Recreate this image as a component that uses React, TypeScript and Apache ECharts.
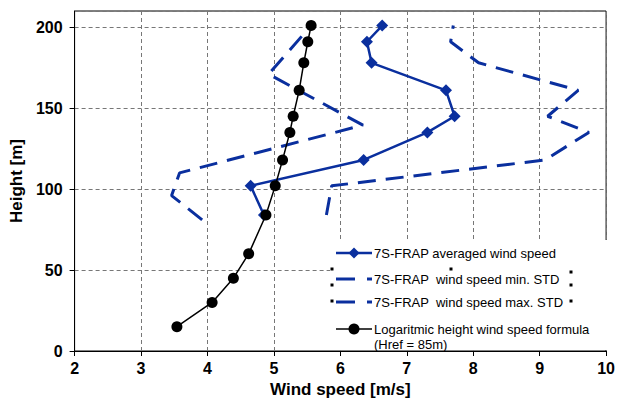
import React, { useEffect, useRef } from "react";
import * as echarts from "echarts";

// Logarithmic profile (black)
const logHeights = [15, 30, 45, 60, 84, 102, 118, 135, 145, 161, 178, 191, 201];
const logWind = [3.54, 4.07, 4.39, 4.62, 4.88, 5.02, 5.13, 5.24, 5.29, 5.38, 5.45, 5.51, 5.56];

// 7S-FRAP averaged
const avgHeights = [84, 102, 118, 135, 145, 161, 178, 191, 201];
const avgWind = [4.85, 4.65, 6.35, 7.31, 7.72, 7.59, 6.47, 6.4, 6.63];

// max STD
const maxHeights = [84, 102, 118, 135, 145, 161, 178, 191, 201];
const maxWind = [5.79, 5.87, 9.08, 9.74, 9.12, 9.58, 8.08, 7.66, 7.7];

// min STD
const minHeights = [81, 96, 110, 139.5, 171, 201];
const minWind = [3.92, 3.46, 3.58, 6.34, 4.92, 5.56];

const xTicks = { min: 2, max: 10, interval: 1 };
const yTicks = { min: 0, max: 210, interval: 50 };

const legendNames = [
  "7S-FRAP averaged wind speed",
  "7S-FRAP  wind speed min. STD",
  "7S-FRAP  wind speed max. STD",
  "Logaritmic height wind speed formula",
  "(Href = 85m)",
];

const BLUE = "#0a2f9e";
const FONT = "'Liberation Sans', Arial, sans-serif";

const pairs = (xs: number[], ys: number[]) => xs.map((x, i) => [x, ys[i]]);

export default function App() {
  const ref = useRef<HTMLDivElement>(null);
  useEffect(() => {
    if (!ref.current) return;
    const chart = echarts.init(ref.current, null, { renderer: "svg" });
    const handle = (x: number, y: number) => ({
      type: "rect",
      shape: { x: x - 1.5, y: y - 1.5, width: 3, height: 3 },
      style: { fill: "#000" },
      z: 102,
    });
    const txt = (x: number, y: number, t: string) => ({
      type: "text",
      x,
      y,
      style: { text: t, fill: "#000", font: `13px ${FONT}`, textVerticalAlign: "middle" },
      z: 102,
    });
    chart.setOption({
      animation: false,
      backgroundColor: "#fff",
      grid: {
        left: 68,
        right: 8,
        top: 11,
        bottom: 52,
        show: true,
        borderColor: "#000",
        borderWidth: 1,
      },
      xAxis: {
        type: "value",
        min: xTicks.min,
        max: xTicks.max,
        interval: xTicks.interval,
        name: "Wind speed [m/s]",
        nameLocation: "middle",
        nameGap: 30,
        nameTextStyle: { fontFamily: FONT, fontSize: 17, fontWeight: "bold", color: "#000" },
        axisLine: { show: true, lineStyle: { color: "#000", width: 1 } },
        axisTick: { show: true, length: 5, inside: false, lineStyle: { color: "#000" } },
        axisLabel: { fontFamily: FONT, fontSize: 16, fontWeight: "bold", color: "#000", margin: 9 },
        splitLine: { show: true, lineStyle: { color: "#777", width: 1, type: [4, 3] } },
      },
      yAxis: {
        type: "value",
        min: yTicks.min,
        max: yTicks.max,
        interval: yTicks.interval,
        name: "Height [m]",
        nameLocation: "middle",
        nameGap: 42,
        nameTextStyle: { fontFamily: FONT, fontSize: 17, fontWeight: "bold", color: "#000" },
        axisLine: { show: true, lineStyle: { color: "#000", width: 1 } },
        axisTick: { show: true, length: 5, inside: false, lineStyle: { color: "#000" } },
        axisLabel: {
          fontFamily: FONT,
          fontSize: 16,
          fontWeight: "bold",
          color: "#000",
          margin: 12,
          showMaxLabel: false,
        },
        splitLine: { show: true, lineStyle: { color: "#777", width: 1, type: [4, 3] } },
      },
      series: [
        {
          name: legendNames[2],
          type: "line",
          data: pairs(maxWind, maxHeights),
          symbol: "none",
          lineStyle: { color: BLUE, width: 3, type: [18, 10] },
          z: 2,
        },
        {
          name: legendNames[1],
          type: "line",
          data: pairs(minWind, minHeights),
          symbol: "none",
          lineStyle: { color: BLUE, width: 3, type: [18, 10] },
          z: 2,
        },
        {
          name: legendNames[0],
          type: "line",
          data: pairs(avgWind, avgHeights),
          symbol: "diamond",
          symbolSize: 12,
          itemStyle: { color: BLUE },
          lineStyle: { color: BLUE, width: 2.5 },
          z: 3,
        },
        {
          name: legendNames[3],
          type: "line",
          data: pairs(logWind, logHeights),
          symbol: "circle",
          symbolSize: 11,
          itemStyle: { color: "#000" },
          lineStyle: { color: "#000", width: 1.5 },
          z: 4,
        },
      ],
      graphic: [
        {
          type: "rect",
          shape: { x: 330, y: 240, width: 279, height: 110 },
          style: { fill: "#fff" },
          z: 100,
        },
        // entry 1
        { type: "line", shape: { x1: 336, y1: 253, x2: 372, y2: 253 }, style: { stroke: BLUE, lineWidth: 2.5 }, z: 101 },
        {
          type: "polygon",
          shape: { points: [[354, 247.5], [359.5, 253], [354, 258.5], [348.5, 253]] },
          style: { fill: BLUE },
          z: 101,
        },
        txt(374, 253, legendNames[0]),
        // entry 2
        { type: "line", shape: { x1: 336, y1: 279, x2: 355, y2: 279 }, style: { stroke: BLUE, lineWidth: 3 }, z: 101 },
        { type: "line", shape: { x1: 367, y1: 279, x2: 372, y2: 279 }, style: { stroke: BLUE, lineWidth: 3 }, z: 101 },
        txt(374, 279, legendNames[1]),
        // entry 3
        { type: "line", shape: { x1: 336, y1: 302, x2: 355, y2: 302 }, style: { stroke: BLUE, lineWidth: 3 }, z: 101 },
        { type: "line", shape: { x1: 367, y1: 302, x2: 372, y2: 302 }, style: { stroke: BLUE, lineWidth: 3 }, z: 101 },
        txt(374, 302, legendNames[2]),
        // entry 4
        { type: "line", shape: { x1: 336, y1: 329, x2: 372, y2: 329 }, style: { stroke: "#000", lineWidth: 1.5 }, z: 101 },
        { type: "circle", shape: { cx: 354, cy: 329, r: 5.5 }, style: { fill: "#000" }, z: 101 },
        txt(374, 329, legendNames[3]),
        txt(374, 344, legendNames[4]),
        // selection handles
        handle(332, 269),
        handle(332, 285),
        handle(451, 269),
        handle(571, 272),
        handle(571, 285),
        handle(332, 301),
        handle(571, 301),
      ],
    });
    return () => chart.dispose();
  }, []);
  return (
    <div
      ref={ref}
      style={{ position: "fixed", left: 0, top: 0, width: 618, height: 403, background: "#fff" }}
    />
  );
}
